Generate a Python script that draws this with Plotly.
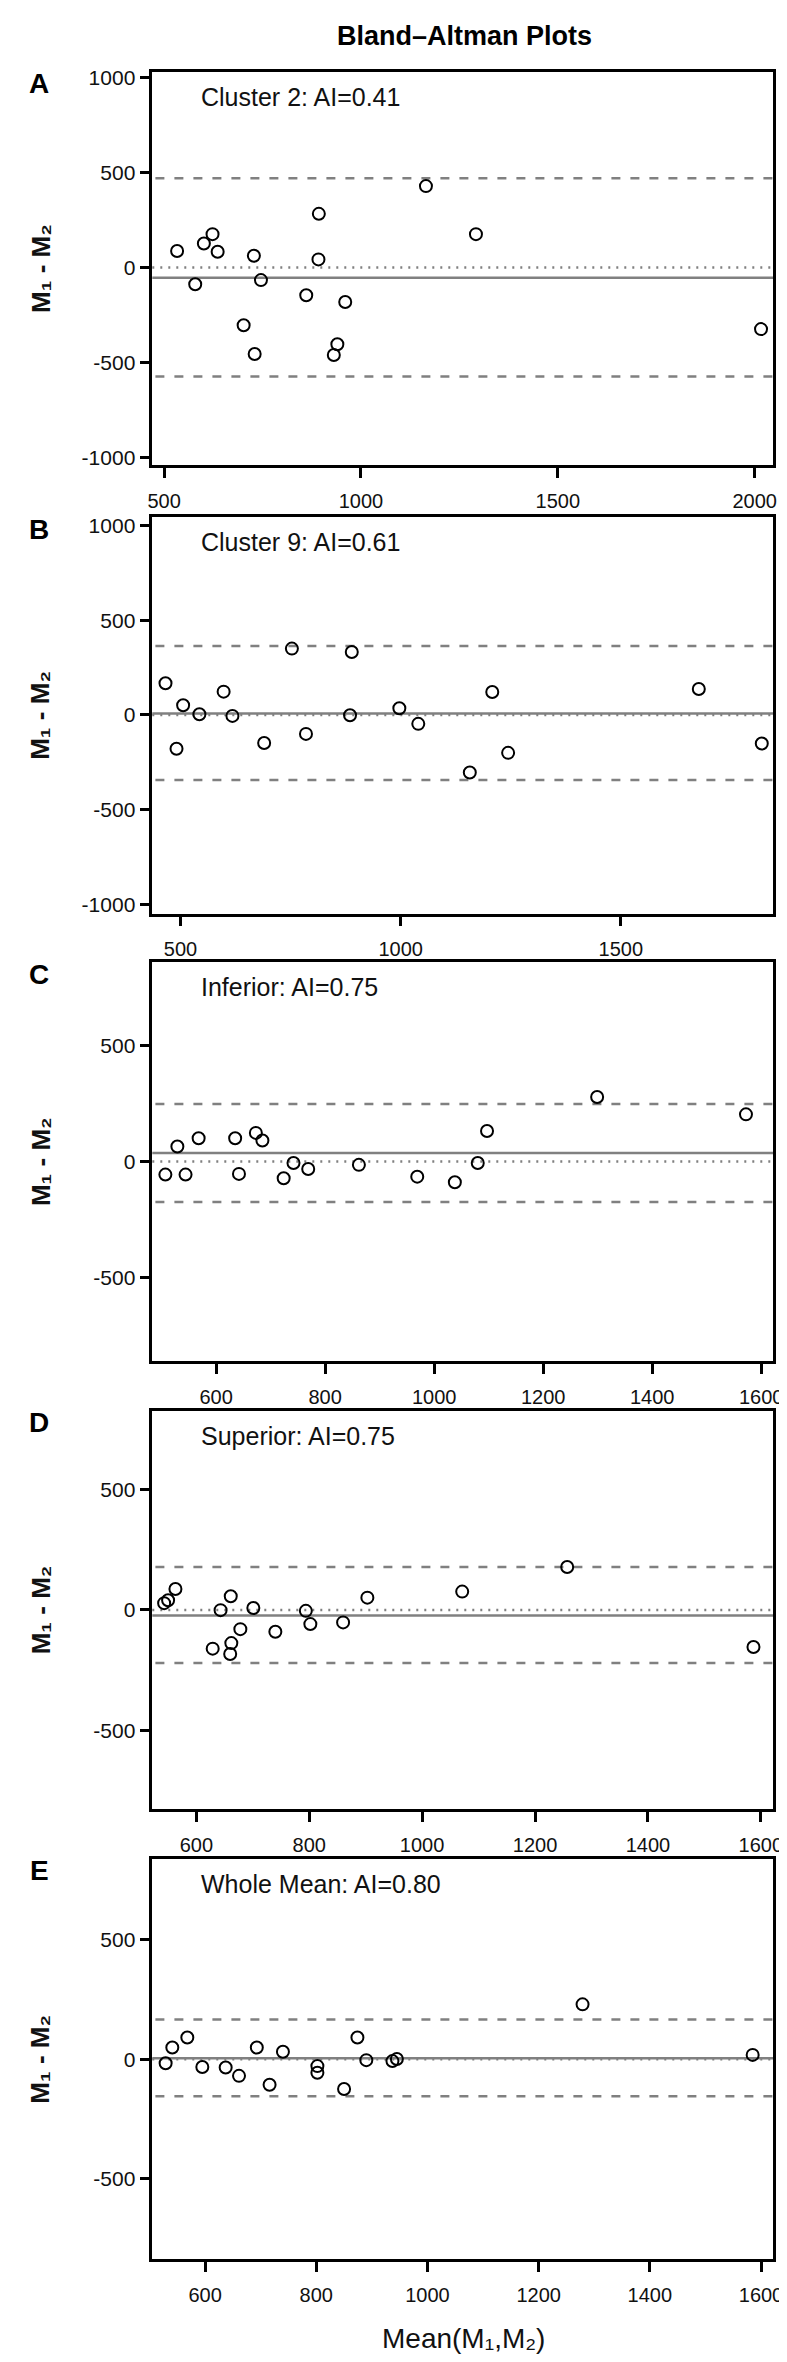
import plotly.graph_objects as go

# ---------------- data ----------------
panel_letters = ["A", "B", "C", "D", "E"]
panel_labels = ["Cluster 2: AI=0.41", "Cluster 9: AI=0.61", "Inferior: AI=0.75",
                "Superior: AI=0.75", "Whole Mean: AI=0.80"]

a_mean = [533, 579, 601, 623, 636, 728, 702, 730, 746, 861, 893, 892, 960, 940, 931, 1165, 1292, 2016]
a_diff = [86, -89, 126, 175, 82, 61, -305, -456, -67, -147, 282, 42, -182, -405, -461, 428, 175, -325]

b_mean = [466, 491, 506, 543, 598, 618, 690, 753, 785, 889, 885, 997, 1040, 1157, 1208, 1244, 1677, 1820]
b_diff = [167, -178, 51, 4, 123, -5, -148, 350, -100, 332, -2, 35, -47, -304, 121, -200, 137, -151]

c_mean = [507, 529, 544, 568, 635, 642, 673, 685, 724, 742, 769, 862, 969, 1038, 1080, 1097, 1299, 1572]
c_diff = [-56, 65, -56, 101, 101, -53, 124, 91, -72, -6, -32, -14, -65, -89, -6, 132, 279, 204]

d_mean = [543, 550, 563, 629, 643, 661, 662, 660, 678, 701, 740, 794, 802, 860, 903, 1071, 1257, 1587]
d_diff = [28, 40, 87, -161, -1, 57, -138, -183, -80, 8, -91, -4, -59, -52, 51, 76, 178, -154]

e_mean = [529, 541, 568, 595, 637, 661, 693, 716, 740, 802, 802, 850, 874, 890, 937, 945, 1279, 1585]
e_diff = [-17, 49, 91, -33, -35, -70, 49, -107, 31, -29, -57, -125, 91, -4, -8, 1, 230, 18]

bias = [-54, 7, 37, -23, 4]
upper_loa = [470, 364, 249, 178, 166]
lower_loa = [-575, -343, -174, -221, -156]
zero_ref = [0, 0, 0, 0, 0]

x_ranges = [[470, 2047], [436, 1846], [483, 1622], [522, 1622], [505, 1622]]
y_ranges = [[-1042, 1030], [-1048, 1044], [-860, 860], [-828, 828], [-840, 840]]

x_ticks_ab_a = [500, 1000, 1500, 2000]
x_ticks_b = [500, 1000, 1500]
x_ticks_cde = [600, 800, 1000, 1200, 1400, 1600]
y_ticks_ab = [-1000, -500, 0, 500, 1000]
y_ticks_cde = [-500, 0, 500]

means = [a_mean, b_mean, c_mean, d_mean, e_mean]
diffs = [a_diff, b_diff, c_diff, d_diff, e_diff]
x_ticks = [x_ticks_ab_a, x_ticks_b, x_ticks_cde, x_ticks_cde, x_ticks_cde]
y_ticks = [y_ticks_ab, y_ticks_ab, y_ticks_cde, y_ticks_cde, y_ticks_cde]

title_text = "Bland\u2013Altman Plots"
y_title = "M\u2081 - M\u2082"
x_title = "Mean(M\u2081,M\u2082)"

# ---------------- layout ----------------
W, H = 787, 2362
box_left, box_right = 142, 775
tops = [58, 505, 952, 1402, 1852]
bottoms = [453, 903, 1352, 1802, 2254]

FONT = "Liberation Sans, Arial, Helvetica, sans-serif"
GREY = "#808080"


def px(x):
    return x / W


def py(y):
    return 1 - y / H


fig = go.Figure()
shapes = []
annotations = []
layout_axes = {}

for i in range(5):
    n = "" if i == 0 else str(i + 1)
    xa, ya = "x" + n, "y" + n
    fig.add_trace(go.Scatter(
        x=means[i], y=diffs[i], mode="markers",
        marker=dict(symbol="circle-open", size=12, color="black",
                    line=dict(width=2, color="black")),
        xaxis=xa, yaxis=ya, showlegend=False, hoverinfo="x+y"))

    common = dict(showline=True, mirror=True, linecolor="black", linewidth=2.5,
                  ticks="outside", ticklen=10, tickwidth=2.5, tickcolor="black",
                  showgrid=False, zeroline=False,
                  tickfont=dict(family=FONT, size=20, color="#111"))
    layout_axes["xaxis" + n] = dict(
        common, domain=[px(box_left), px(box_right)], anchor=ya,
        range=x_ranges[i], tickvals=x_ticks[i],
        ticktext=[str(v) for v in x_ticks[i]], ticklabelstandoff=6)
    layout_axes["yaxis" + n] = dict(
        common, domain=[py(bottoms[i]), py(tops[i])], anchor=xa,
        range=y_ranges[i], tickvals=y_ticks[i],
        ticktext=[str(v) for v in y_ticks[i]],
        tickfont=dict(family=FONT, size=21, color="#111"))

    xd = xa + " domain"
    shapes.append(dict(type="line", xref=xd, yref=ya, x0=0, x1=1,
                       y0=zero_ref[i], y1=zero_ref[i], layer="below",
                       line=dict(color=GREY, width=2.5, dash="2px,6px")))
    shapes.append(dict(type="line", xref=xd, yref=ya, x0=0, x1=1,
                       y0=bias[i], y1=bias[i], layer="below",
                       line=dict(color=GREY, width=2.5)))
    for v in (upper_loa[i], lower_loa[i]):
        shapes.append(dict(type="line", xref=xd, yref=ya, x0=0.005, x1=1,
                           y0=v, y1=v, layer="below",
                           line=dict(color=GREY, width=2.5, dash="9px,10px")))

    annotations.append(dict(
        text=panel_labels[i], xref="paper", yref="paper",
        x=px(190), y=py(tops[i] + 25), xanchor="left", yanchor="middle",
        showarrow=False, font=dict(family=FONT, size=25, color="#111")))
    annotations.append(dict(
        text="<b>" + panel_letters[i] + "</b>", xref="paper", yref="paper",
        x=px(27), y=py(tops[i] + 12), xanchor="center", yanchor="middle",
        showarrow=False, font=dict(family=FONT, size=28, color="black")))
    annotations.append(dict(
        text="<b>" + y_title + "</b>", xref="paper", yref="paper",
        x=px(28), y=py((tops[i] + bottoms[i]) / 2), xanchor="center",
        yanchor="middle", textangle=-90, showarrow=False,
        font=dict(family=FONT, size=26, color="#111")))

annotations.append(dict(
    text="<b>" + title_text + "</b>", xref="paper", yref="paper",
    x=px(460), y=py(22), xanchor="center", yanchor="middle", showarrow=False,
    font=dict(family=FONT, size=27, color="black")))
annotations.append(dict(
    text=x_title, xref="paper", yref="paper",
    x=px(459), y=py(2333), xanchor="center", yanchor="middle", showarrow=False,
    font=dict(family=FONT, size=28, color="#111")))

fig.update_layout(
    width=W, height=H, margin=dict(l=0, r=0, t=0, b=0),
    paper_bgcolor="white", plot_bgcolor="white",
    shapes=shapes, annotations=annotations, showlegend=False,
    **layout_axes)

fig.write_html("out.html")
